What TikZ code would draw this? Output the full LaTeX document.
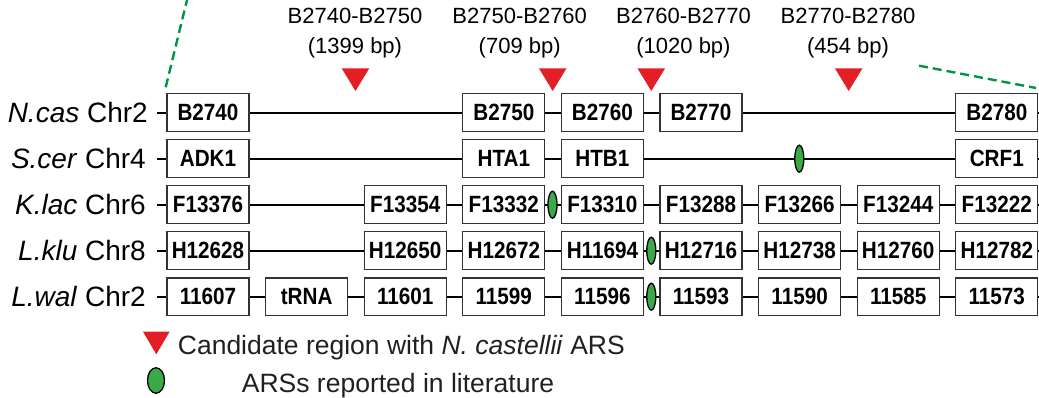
\documentclass[tikz,border=0pt]{standalone}
\usepackage{fontspec}
\setmainfont{Liberation Sans}
\newfontfamily\boxfont[FakeStretch=0.88]{Liberation Sans Bold}
\usetikzlibrary{shapes.geometric}
\definecolor{arsred}{HTML}{E31E24}
\definecolor{dashgreen}{HTML}{009444}
\definecolor{arsgreen}{HTML}{39AA46}
\definecolor{boxgray}{HTML}{333333}
\definecolor{legtext}{HTML}{231F20}
\tikzset{
  genebox/.style={draw=boxgray, line width=1.1pt, fill=white, minimum width=82pt, minimum height=37.5pt,
    inner sep=0pt, text height=16.5pt, text depth=0pt, font=\boxfont\fontsize{23.5}{27}\selectfont},
  chrline/.style={line width=1.8pt, black},
  ars/.style={ellipse, draw=black, line width=1.3pt, fill=arsgreen, minimum width=9pt, minimum height=27pt, inner sep=0pt},
  rowlabel/.style={anchor=east, inner sep=0pt, font=\fontsize{28}{32}\selectfont},
  toplabel/.style={anchor=base, inner sep=0pt, font=\fontsize{22}{26}\selectfont},
  legendtext/.style={anchor=base west, inner sep=0pt, text=legtext, font=\fontsize{26.5}{30}\selectfont},
  zoomline/.style={dashgreen, line width=2.4pt, dash pattern=on 9pt off 5pt},
  candidate/.style={fill=arsred, draw=none}
}
\begin{document}
\begin{tikzpicture}[x=1pt,y=-1pt]
\useasboundingbox (0,0) rectangle (1039,398);

% zoom lines
\coordinate (zl1) at (165.7,87.3);
\coordinate (zl2) at (187.5,-2);
\coordinate (zr1) at (919,65.7);
\coordinate (zr2) at (1036,88);
\draw[zoomline] (zl1) -- (zl2);
\draw[zoomline] (zr1) -- (zr2);

% top labels
\node[toplabel] (t1a) at (355,24) {B2740-B2750};
\node[toplabel] (t1b) at (355,53.3) {(1399 bp)};
\node[toplabel] (t2a) at (519.7,24) {B2750-B2760};
\node[toplabel] (t2b) at (519.7,53.3) {(709 bp)};
\node[toplabel] (t3a) at (683.5,24) {B2760-B2770};
\node[toplabel] (t3b) at (683.5,53.3) {(1020 bp)};
\node[toplabel] (t4a) at (848,24) {B2770-B2780};
\node[toplabel] (t4b) at (848,53.3) {(454 bp)};

% candidate triangles
\foreach \x in {355.5,552.7,651.3,848.7}{
  \fill[candidate] (\x-13.8,68.3) -- (\x+13.8,68.3) -- (\x,91) -- cycle;
}

% row labels
\node[rowlabel] (l1) at (148,112.7) {\textit{N.cas} Chr2};
\node[rowlabel] (l2) at (146,158.7) {\textit{S.cer} Chr4};
\node[rowlabel] (l3) at (146,204.7) {\textit{K.lac} Chr6};
\node[rowlabel] (l4) at (146,250.7) {\textit{L.klu} Chr8};
\node[rowlabel] (l5) at (146,296.7) {\textit{L.wal} Chr2};

% row end coordinates
\foreach \r/\y in {1/112.7,2/158.7,3/204.7,4/250.7,5/296.7}{
  \coordinate (L\r) at (157,\y);
  \coordinate (R\r) at (1039,\y);
}

% boxes: x = 208 + 98.6*k
\def\cx#1{208+98.6*#1}
% row 1
\node[genebox] (n1c0) at ({\cx{0}},112.7) {B2740};
\node[genebox] (n1c3) at ({\cx{3}},112.7) {B2750};
\node[genebox] (n1c4) at ({\cx{4}},112.7) {B2760};
\node[genebox] (n1c5) at ({\cx{5}},112.7) {B2770};
\node[genebox] (n1c8) at ({\cx{8}},112.7) {B2780};
% row 2
\node[genebox] (n2c0) at ({\cx{0}},158.7) {ADK1};
\node[genebox] (n2c3) at ({\cx{3}},158.7) {HTA1};
\node[genebox] (n2c4) at ({\cx{4}},158.7) {HTB1};
\node[genebox] (n2c8) at ({\cx{8}},158.7) {CRF1};
% row 3
\node[genebox] (n3c0) at ({\cx{0}},204.7) {F13376};
\node[genebox] (n3c2) at ({\cx{2}},204.7) {F13354};
\node[genebox] (n3c3) at ({\cx{3}},204.7) {F13332};
\node[genebox] (n3c4) at ({\cx{4}},204.7) {F13310};
\node[genebox] (n3c5) at ({\cx{5}},204.7) {F13288};
\node[genebox] (n3c6) at ({\cx{6}},204.7) {F13266};
\node[genebox] (n3c7) at ({\cx{7}},204.7) {F13244};
\node[genebox] (n3c8) at ({\cx{8}},204.7) {F13222};
% row 4
\node[genebox] (n4c0) at ({\cx{0}},250.7) {H12628};
\node[genebox] (n4c2) at ({\cx{2}},250.7) {H12650};
\node[genebox] (n4c3) at ({\cx{3}},250.7) {H12672};
\node[genebox] (n4c4) at ({\cx{4}},250.7) {H11694};
\node[genebox] (n4c5) at ({\cx{5}},250.7) {H12716};
\node[genebox] (n4c6) at ({\cx{6}},250.7) {H12738};
\node[genebox] (n4c7) at ({\cx{7}},250.7) {H12760};
\node[genebox] (n4c8) at ({\cx{8}},250.7) {H12782};
% row 5
\node[genebox] (n5c0) at ({\cx{0}},296.7) {11607};
\node[genebox] (n5c1) at ({\cx{1}},296.7) {tRNA};
\node[genebox] (n5c2) at ({\cx{2}},296.7) {11601};
\node[genebox] (n5c3) at ({\cx{3}},296.7) {11599};
\node[genebox] (n5c4) at ({\cx{4}},296.7) {11596};
\node[genebox] (n5c5) at ({\cx{5}},296.7) {11593};
\node[genebox] (n5c6) at ({\cx{6}},296.7) {11590};
\node[genebox] (n5c7) at ({\cx{7}},296.7) {11585};
\node[genebox] (n5c8) at ({\cx{8}},296.7) {11573};

% chromosome connectors
\draw[chrline] (L1) -- (n1c0) (n1c0) -- (n1c3) (n1c3) -- (n1c4) (n1c4) -- (n1c5) (n1c5) -- (n1c8) (n1c8) -- (R1);
\draw[chrline] (L2) -- (n2c0) (n2c0) -- (n2c3) (n2c3) -- (n2c4) (n2c4) -- (n2c8) (n2c8) -- (R2);
\draw[chrline] (L3) -- (n3c0) (n3c0) -- (n3c2) (n3c2) -- (n3c3) (n3c3) -- (n3c4) (n3c4) -- (n3c5) (n3c5) -- (n3c6) (n3c6) -- (n3c7) (n3c7) -- (n3c8) (n3c8) -- (R3);
\draw[chrline] (L4) -- (n4c0) (n4c0) -- (n4c2) (n4c2) -- (n4c3) (n4c3) -- (n4c4) (n4c4) -- (n4c5) (n4c5) -- (n4c6) (n4c6) -- (n4c7) (n4c7) -- (n4c8) (n4c8) -- (R4);
\draw[chrline] (L5) -- (n5c0) (n5c0) -- (n5c1) (n5c1) -- (n5c2) (n5c2) -- (n5c3) (n5c3) -- (n5c4) (n5c4) -- (n5c5) (n5c5) -- (n5c6) (n5c6) -- (n5c7) (n5c7) -- (n5c8) (n5c8) -- (R5);

% ARS ellipses
\node[ars] (a2) at (799.3,158.7) {};
\node[ars] (a3) at (552.5,204.7) {};
\node[ars] (a4) at (651.3,250.7) {};
\node[ars] (a5) at (651.3,296.7) {};

% legend
\fill[candidate] (143,331.7) -- (169.6,331.7) -- (156.3,354.3) -- cycle;
\node[legendtext] (leg1) at (177.7,354) {Candidate region with \textit{N. castellii} ARS};
\node[ars, minimum width=17pt, minimum height=25.5pt] (lega) at (156,380.5) {};
\node[legendtext] (leg2) at (241.7,392.7) {ARSs reported in literature};
\end{tikzpicture}
\end{document}
